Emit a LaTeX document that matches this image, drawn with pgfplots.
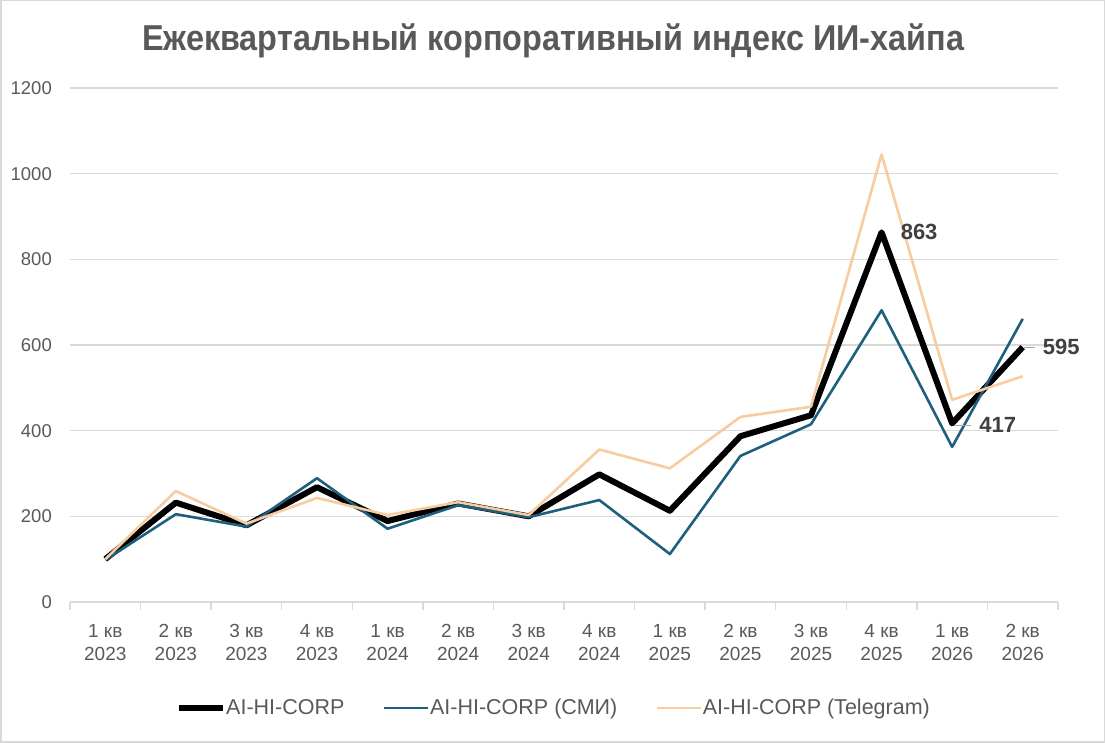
\documentclass[border=0pt]{standalone}
\usepackage{pgfplots}
\pgfplotsset{compat=1.18}
\usepackage{fontspec}
\setmainfont{Liberation Sans}
\usepackage{graphicx}
\definecolor{tgray}{HTML}{595959}
\definecolor{lgray}{HTML}{D9D9D9}
\definecolor{ldr}{HTML}{A6A6A6}
\definecolor{smi}{HTML}{1F5F7E}
\definecolor{tg}{HTML}{F8CBA0}
\definecolor{dlab}{HTML}{404040}
\begin{document}
\begin{tikzpicture}
\path[use as bounding box] (0pt,0pt) rectangle (1105pt,743pt);
\draw[lgray, line width=1.5pt] (0.75pt,0.75pt) rectangle (1104.25pt,742.25pt);
\node[anchor=base, font=\bfseries\fontsize{36}{40}\selectfont, text=tgray, inner sep=0pt] at (553pt,692pt) {\scalebox{0.9}[1]{Ежеквартальный корпоративный индекс ИИ-хайпа}};
\begin{axis}[
  at={(70pt,141pt)}, anchor=south west,
  scale only axis, width=988pt, height=514pt,
  xmin=0, xmax=14, ymin=0, ymax=1200,
  axis x line=bottom, axis y line=left,
  x axis line style={-, lgray, line width=1.5pt},
  y axis line style={draw=none},
  ymajorgrids, grid style={lgray, line width=1.5pt},
  xtick={0.5,1.5,...,13.5},
  xticklabels={{1 кв\\2023},{2 кв\\2023},{3 кв\\2023},{4 кв\\2023},{1 кв\\2024},{2 кв\\2024},{3 кв\\2024},{4 кв\\2024},{1 кв\\2025},{2 кв\\2025},{3 кв\\2025},{4 кв\\2025},{1 кв\\2026},{2 кв\\2026}},
  minor xtick={0,1,...,14},
  major tick length=0pt, minor tick length=8pt, tick align=outside,
  minor tick style={lgray, line width=1.5pt},
  major tick style={draw=none},
  xtick pos=bottom, ytick pos=left,
  ytick={0,200,...,1200},
  /pgf/number format/assume math mode=true,
  /pgf/number format/1000 sep={},
  xticklabel style={font=\fontsize{19}{23}\selectfont, text=tgray, align=center, inner sep=0pt, anchor=north, yshift=-22pt},
  yticklabel style={font=\fontsize{18.5}{20}\selectfont, text=tgray, inner sep=0pt, anchor=east, xshift=-18pt},
  legend style={at={(0.4889,-0.206)}, anchor=center, draw=none, fill=none, font=\fontsize{21.5}{25}\selectfont, text=tgray, nodes={inner sep=0.5pt}},
  legend columns=3,
  legend cell align=left,
  /tikz/every even column/.append style={column sep=38pt},
  legend image code/.code={\draw[#1] (0pt,0pt) -- (44pt,0pt);},
]
\addplot[black, line width=6pt, line join=round, mark=none] coordinates {
(0.5,100) (1.5,232) (2.5,179) (3.5,268) (4.5,189) (5.5,230) (6.5,200) (7.5,298) (8.5,213) (9.5,387) (10.5,436) (11.5,863) (12.5,417) (13.5,595)};
\addlegendentry{AI-HI-CORP}
\addplot[smi, line width=2.6pt, line join=round, mark=none] coordinates {
(0.5,98) (1.5,205) (2.5,176) (3.5,289) (4.5,171) (5.5,226) (6.5,198) (7.5,238) (8.5,112) (9.5,341) (10.5,415) (11.5,681) (12.5,362) (13.5,661)};
\addlegendentry{AI-HI-CORP (СМИ)}
\addplot[tg, line width=2.6pt, line join=round, mark=none] coordinates {
(0.5,100) (1.5,259) (2.5,183) (3.5,243) (4.5,203) (5.5,233) (6.5,203) (7.5,356) (8.5,312) (9.5,432) (10.5,456) (11.5,1045) (12.5,472) (13.5,527)};
\addlegendentry{AI-HI-CORP (Telegram)}
\addplot[draw=none, mark=none, forget plot, nodes near coords={863}, nodes near coords style={anchor=west, xshift=19pt, inner sep=0pt, font=\bfseries\fontsize{22}{24}\selectfont, text=dlab}] coordinates {(11.5,863)};
\addplot[draw=none, mark=none, forget plot, nodes near coords={\textcolor{ldr}{\rule[0.3em]{11pt}{1.2pt}}\hspace{8pt}595}, nodes near coords style={anchor=west, xshift=1pt, inner sep=0pt, font=\bfseries\fontsize{22}{24}\selectfont, text=dlab}] coordinates {(13.5,595)};
\addplot[draw=none, mark=none, forget plot, nodes near coords={\textcolor{ldr}{\rule[0.3em]{17pt}{1.2pt}}\hspace{8pt}417}, nodes near coords style={anchor=west, xshift=2pt, yshift=-2pt, inner sep=0pt, font=\bfseries\fontsize{22}{24}\selectfont, text=dlab}] coordinates {(12.5,417)};
\end{axis}
\end{tikzpicture}
\end{document}
